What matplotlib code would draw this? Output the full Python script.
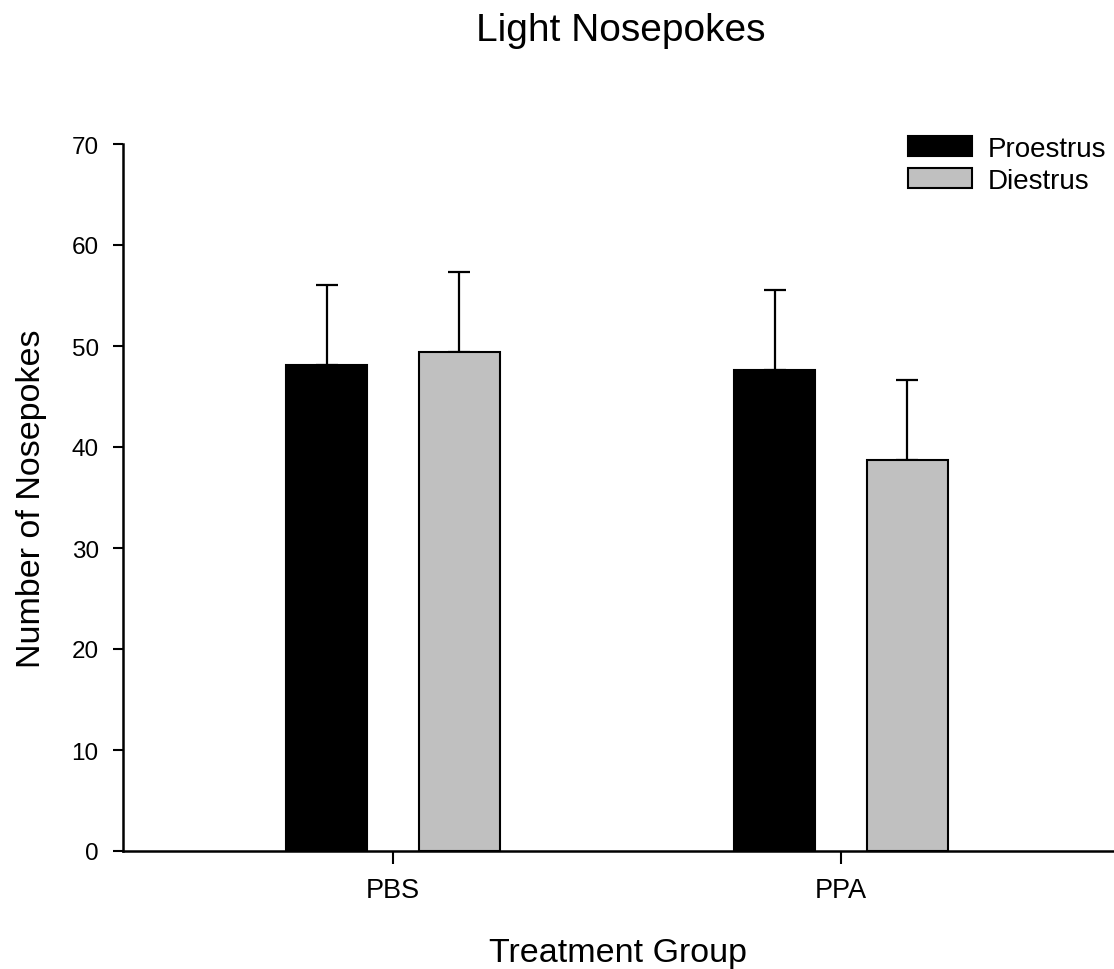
import numpy as np
import matplotlib.pyplot as plt

plt.rcParams['font.family'] = ['Liberation Sans', 'DejaVu Sans']

groups = ['PBS', 'PPA']
series = ['Proestrus', 'Diestrus']
proestrus = [48.1, 47.6]
proestrus_err = [7.9, 7.9]
diestrus = [49.4, 38.7]
diestrus_err = [7.9, 7.9]

fig = plt.figure(figsize=(11.14, 9.70), dpi=100)
ax = fig.add_axes([123 / 1114, 118 / 970, 990 / 1114, 707 / 970])

x = np.arange(len(groups))
w = 0.181
off = 0.148

ax.bar(x - off, proestrus, w, color='black', edgecolor='black', linewidth=1.5,
       label=series[0], zorder=2)
ax.bar(x + off, diestrus, w, color='#c0c0c0', edgecolor='black', linewidth=1.5,
       label=series[1], zorder=2)
# upper error bars only
ax.errorbar(x - off, proestrus, yerr=[np.zeros(2), proestrus_err], fmt='none',
            ecolor='black', elinewidth=1.6, capsize=7.6, capthick=1.6, zorder=1)
ax.errorbar(x + off, diestrus, yerr=[np.zeros(2), diestrus_err], fmt='none',
            ecolor='black', elinewidth=1.6, capsize=7.6, capthick=1.6, zorder=1)

ax.set_xlim(-0.603, 1.607)
ax.set_ylim(0, 70)
ax.set_yticks(np.arange(0, 71, 10))
ax.set_xticks(x)
ax.set_xticklabels(groups)
ax.tick_params(axis='y', direction='out', length=7.5, width=1.5, labelsize=17.5, pad=10)
ax.tick_params(axis='x', direction='out', length=9, width=1.5, labelsize=19.5, pad=10)

for s in ['top', 'right']:
    ax.spines[s].set_visible(False)
for s in ['left', 'bottom']:
    ax.spines[s].set_linewidth(1.8)

ax.set_xlabel('Treatment Group', fontsize=24.5, labelpad=24)
ax.set_ylabel('Number of Nosepokes', fontsize=24.5, labelpad=18)
fig.text(0.557, 0.968, 'Light Nosepokes', fontsize=28, ha='center', va='center')

ax.legend(loc='upper left', bbox_to_anchor=(908 / 1114, 1 - 137 / 970),
          bbox_transform=fig.transFigure, frameon=False, fontsize=20,
          borderpad=0, borderaxespad=0,
          handlelength=2.3, handleheight=0.75, labelspacing=0.2, handletextpad=0.58)

fig.savefig('out.png', dpi=100)
